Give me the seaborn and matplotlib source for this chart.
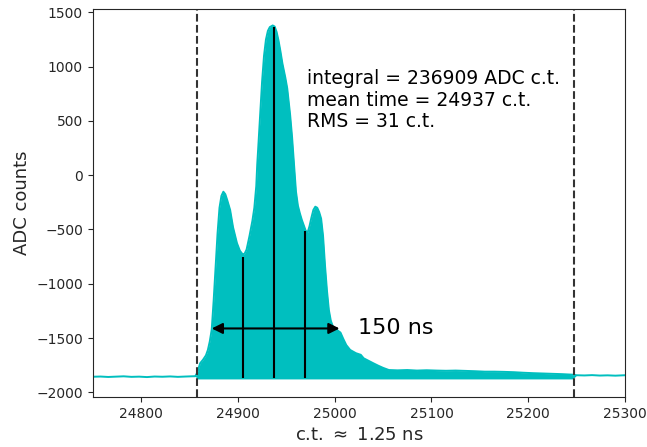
import numpy as np
import matplotlib
matplotlib.use("Agg")
import matplotlib.pyplot as plt
import seaborn as sns
import pandas as pd

# ---- data ----
wave_x = [24750, 24758, 24766, 24774, 24782, 24790, 24798, 24806, 24814, 24822,
          24830, 24838, 24846, 24852, 24856, 24858, 24861, 24864, 24867, 24869,
          24871, 24873, 24875, 24877, 24879, 24881, 24883, 24885, 24887, 24889,
          24892, 24895, 24899, 24902, 24905, 24907, 24909, 24912, 24915, 24917,
          24919, 24920, 24921, 24923, 24925, 24927, 24929, 24931, 24933, 24936,
          24938, 24940, 24942, 24944, 24946, 24949, 24951, 24954, 24956, 24958,
          24960, 24962, 24964, 24966, 24968, 24970, 24972, 24974, 24976, 24978,
          24980, 24982, 24984, 24986, 24988, 24990, 24992, 24994, 24996, 24998,
          25000, 25003, 25006, 25009, 25012, 25016, 25022, 25027, 25030, 25035,
          25040, 25045, 25050, 25056, 25065, 25075, 25085, 25095, 25105, 25115,
          25125, 25135, 25145, 25155, 25165, 25175, 25185, 25195, 25205, 25215,
          25225, 25235, 25246, 25250, 25258, 25266, 25274, 25282, 25290, 25300]
wave_y = [-1857, -1855, -1859, -1856, -1853, -1858, -1856, -1860, -1855, -1857,
          -1854, -1858, -1855, -1853, -1852, -1820, -1733, -1700, -1660, -1610,
          -1530, -1420, -1150, -843, -535, -300, -190, -152, -175, -230,
          -321, -480, -625, -695, -730, -722, -685, -560, -420, -300,
          -100, 100, 248, 554, 861, 1100, 1250, 1330, 1365, 1380,
          1370, 1320, 1240, 1140, 1030, 900, 800, 554, 350, 100,
          -150, -280, -350, -410, -460, -510, -530, -470, -390, -320,
          -290, -300, -340, -400, -560, -830, -1060, -1242, -1340, -1390,
          -1410, -1430, -1450, -1510, -1565, -1610, -1640, -1655, -1687, -1710,
          -1733, -1755, -1775, -1795, -1798, -1795, -1800, -1797, -1800, -1802,
          -1800, -1803, -1806, -1810, -1810, -1812, -1815, -1820, -1824, -1827,
          -1830, -1833, -1838, -1843, -1845, -1842, -1846, -1844, -1847, -1843]

window = [24858, 25247]          # integration window (dashed lines)
fill_floor = -1877               # bottom of the filled area
marker_x = [24905, 24937, 24969]  # vertical lines
marker_top = [-750, 1370, -515]
marker_bottom = -1866
width_x = [24873, 25005]          # 150 ns arrow
width_y = -1412

stats_text = "integral = 236909 ADC c.t.\nmean time = 24937 c.t.\nRMS = 31 c.t."
width_text = "150 ns"
xticks = [24800, 24900, 25000, 25100, 25200, 25300]
yticks = [-2000, -1500, -1000, -500, 0, 500, 1000, 1500]

df = pd.DataFrame({"ct": wave_x, "adc": wave_y})

sns.set_style("ticks")
plt.rcParams['font.family'] = ['DejaVu Sans']

fig = plt.figure(figsize=(6.47, 4.47), dpi=100)
ax = fig.add_axes([0.1433, 0.112, 0.8227, 0.867])

color = "c"
sns.lineplot(data=df, x="ct", y="adc", ax=ax, color=color, lw=1.4, estimator=None)
inwin = (df["ct"] >= window[0]) & (df["ct"] <= window[1])
ax.fill_between(df["ct"], df["adc"], fill_floor, where=inwin, color=color,
                lw=0, interpolate=True)

for wx in window:
    ax.axvline(wx, color="0.2", ls="--", lw=1.5)

ax.vlines(marker_x, marker_bottom, marker_top, color="k", lw=1.5)

ax.annotate("", xy=(width_x[0], width_y), xytext=(width_x[1], width_y),
            arrowprops=dict(arrowstyle="<|-|>", color="k", lw=1.5,
                            mutation_scale=16, shrinkA=0, shrinkB=0))
ax.text(25024, width_y, width_text, fontsize=16, va="center", ha="left", color="k")

ax.text(24971, 975, stats_text, fontsize=13.5, va="top", ha="left", color="k",
        linespacing=1.15)

ax.set_xlim(24750, 25300)
ax.set_ylim(-2043, 1528)
ax.set_xticks(xticks)
ax.set_yticks(yticks)
ax.tick_params(labelsize=10)
ax.set_xlabel(r"c.t. $\approx$ 1.25 ns", fontsize=13)
ax.set_ylabel("ADC counts", fontsize=13)

fig.savefig("out.png", dpi=100)
